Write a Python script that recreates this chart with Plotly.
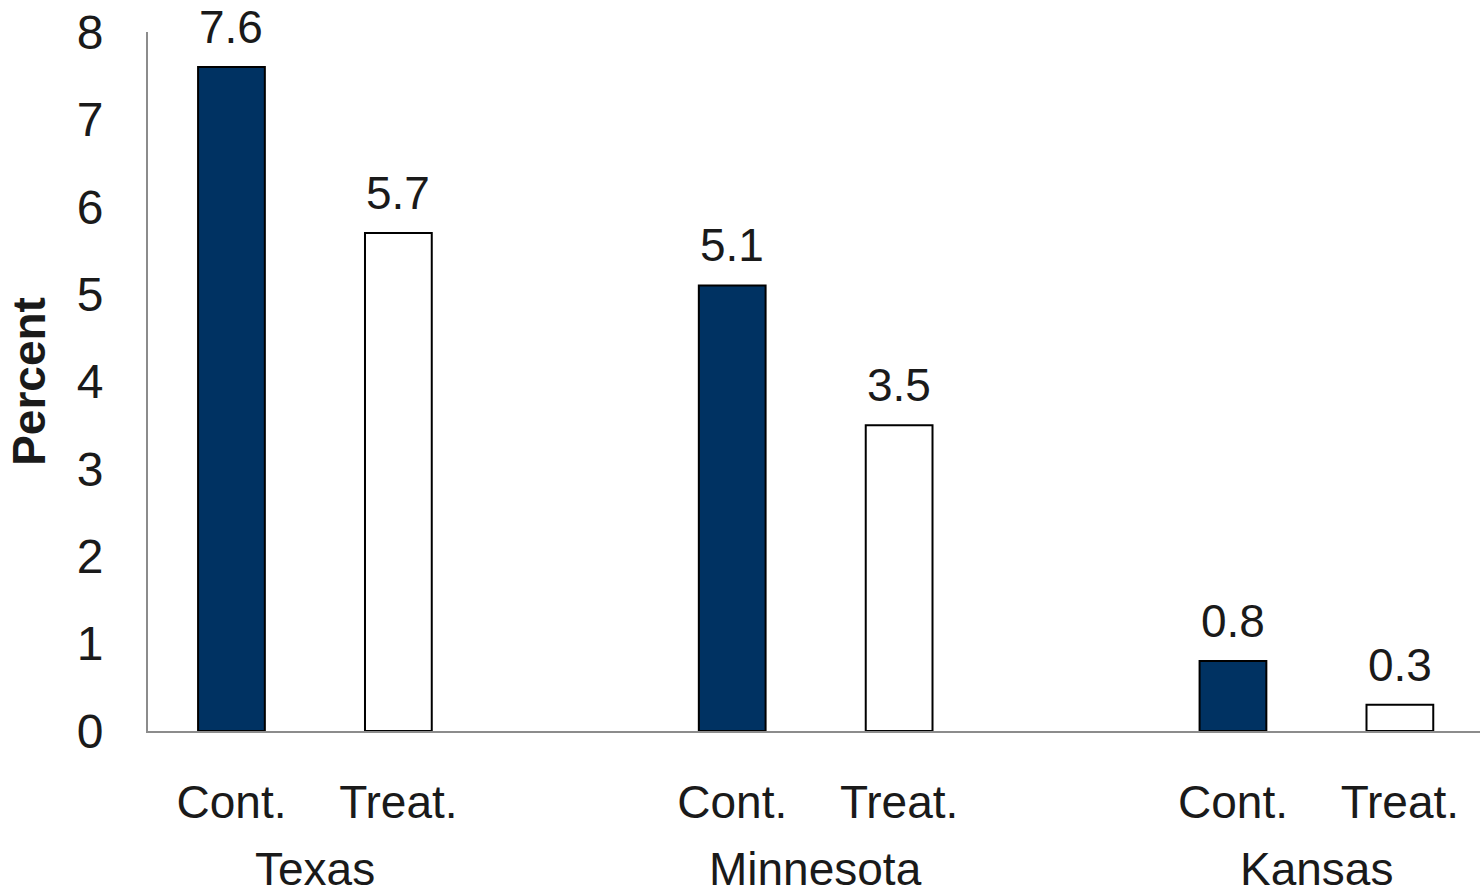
import plotly.graph_objects as go

states = ["Texas", "Minnesota", "Kansas"]
groups = ["Cont.", "Treat."]
cont_values = [7.6, 5.1, 0.8]
treat_values = [5.7, 3.5, 0.3]
y_ticks = [0, 1, 2, 3, 4, 5, 6, 7, 8]

NAVY = "#003262"
TXT = "#1a1a1a"
FONT = "Liberation Sans, Arial, sans-serif"
FS = 46

group_step = 3.0
cont_x = [i * group_step + 0.5 for i in range(len(states))]
treat_x = [i * group_step + 1.5 for i in range(len(states))]
center_x = [i * group_step + 1.0 for i in range(len(states))]

fig = go.Figure()
fig.add_trace(go.Bar(x=cont_x, y=cont_values, width=0.4,
                     marker=dict(color=NAVY, line=dict(color="#000000", width=2)),
                     showlegend=False, hoverinfo="skip"))
fig.add_trace(go.Bar(x=treat_x, y=treat_values, width=0.4,
                     marker=dict(color="#ffffff", line=dict(color="#000000", width=2)),
                     showlegend=False, hoverinfo="skip"))

annotations = []
for xs, vs in ((cont_x, cont_values), (treat_x, treat_values)):
    for x, v in zip(xs, vs):
        annotations.append(dict(x=x, y=v, xref="x", yref="y", text=f"{v:.1f}",
                                showarrow=False, yanchor="bottom", yshift=12,
                                font=dict(size=FS, color=TXT, family=FONT)))
for x, s in zip(center_x, states):
    annotations.append(dict(x=x, y=0, xref="x", yref="paper", text=s,
                            showarrow=False, yanchor="middle", yshift=-138,
                            font=dict(size=FS, color=TXT, family=FONT)))

tickvals = []
ticktext = []
for a, b in zip(cont_x, treat_x):
    tickvals += [a, b]
    ticktext += groups

fig.update_layout(
    width=1480, height=895,
    margin=dict(l=148, r=0, t=32, b=164),
    paper_bgcolor="white", plot_bgcolor="white",
    barmode="overlay",
    annotations=annotations,
    font=dict(family=FONT, color=TXT, size=FS),
    xaxis=dict(range=[0, 7.98], tickvals=tickvals, ticktext=ticktext,
               showgrid=False, zeroline=False, showline=True,
               linecolor="#8c8c8c", linewidth=2, ticks="",
               ticklabelstandoff=30, tickfont=dict(size=FS, color=TXT)),
    yaxis=dict(range=[0, 8], tickvals=y_ticks, showgrid=False, zeroline=False,
               showline=True, linecolor="#8c8c8c", linewidth=2, ticks="",
               ticklabelstandoff=33, tickfont=dict(size=48, color=TXT),
               title=dict(text="<b>Percent</b>", standoff=17,
                          font=dict(size=46, color=TXT))),
)

fig.write_html("out.html")
